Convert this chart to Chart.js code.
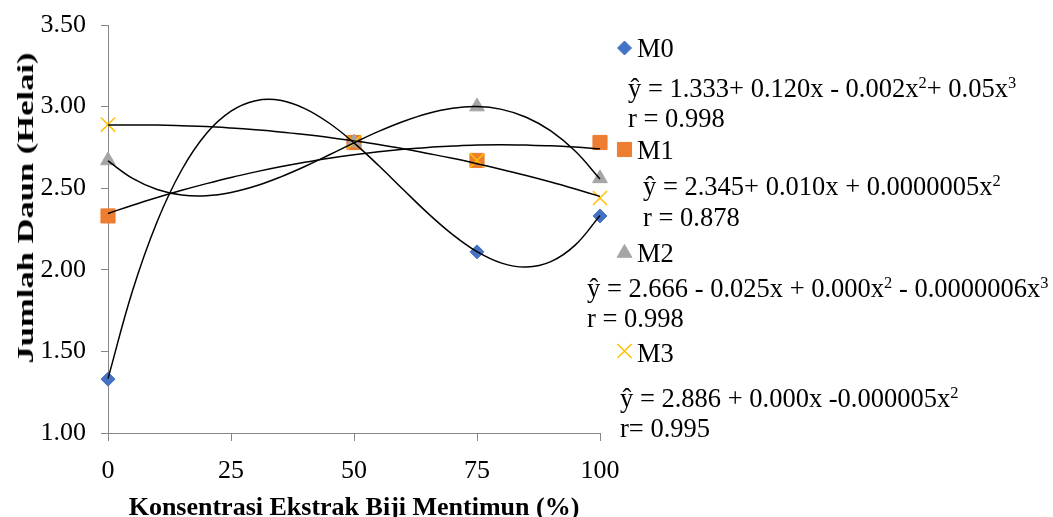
<!DOCTYPE html>
<html>
<head>
<meta charset="utf-8">
<script src="https://cdn.jsdelivr.net/npm/chart.js@4/dist/chart.umd.min.js"></script>
<style>
  html, body { margin: 0; padding: 0; background: #ffffff; }
  #wrap { position: relative; width: 1053px; height: 517px; overflow: hidden; }
  canvas { position: absolute; left: 0; top: 0; }
  .t { position: absolute; font-family: "Liberation Serif", "Times New Roman", serif; font-size: 26.5px; line-height: 30px; color: #000; white-space: nowrap; }
  .t sup { font-size: 0.62em; vertical-align: 0; position: relative; top: -0.55em; line-height: 0; }
  .axt { position: absolute; font-family: "Liberation Serif", "Times New Roman", serif; font-weight: bold; color: #000; white-space: nowrap; line-height: 1; }
</style>
</head>
<body>
<div id="wrap">
  <canvas id="c" width="1053" height="517"></canvas>
  <div class="axt" id="ytitle" style="left:25px; top:208px; font-size:24px; transform: translate(-50%,-50%) rotate(-90deg) scaleX(1.44);">Jumlah Daun (Helai)</div>
  <div class="axt" id="xtitle" style="left:354px; top:507px; font-size:26px; transform: translate(-50%,-50%);">Konsentrasi Ekstrak Biji Mentimun (%)</div>

  <div class="t" style="left:637px; top:33px;">M0</div>
  <div class="t" style="left:628px; top:73px;">ŷ = 1.333+ 0.120x - 0.002x<sup>2</sup>+ 0.05x<sup>3</sup></div>
  <div class="t" style="left:628px; top:103px;">r = 0.998</div>

  <div class="t" style="left:637px; top:135px;">M1</div>
  <div class="t" style="left:643px; top:171px;">ŷ = 2.345+ 0.010x + 0.0000005x<sup>2</sup></div>
  <div class="t" style="left:643px; top:202px;">r = 0.878</div>

  <div class="t" style="left:637px; top:238px;">M2</div>
  <div class="t" style="left:587px; top:273px;">ŷ = 2.666 - 0.025x + 0.000x<sup>2</sup> - 0.0000006x<sup>3</sup></div>
  <div class="t" style="left:587px; top:303px;">r = 0.998</div>

  <div class="t" style="left:637px; top:338px;">M3</div>
  <div class="t" style="left:620px; top:383px;">ŷ = 2.886 + 0.000x -0.000005x<sup>2</sup></div>
  <div class="t" style="left:620px; top:413px;">r= 0.995</div>
</div>
<script>
// ---- data ----
const concentrations = [0, 50, 75, 100];
const seriesNames = ["M0", "M1", "M2", "M3"];
const m0 = [1.33, 2.78, 2.11, 2.33];
const m1 = [2.33, 2.78, 2.67, 2.78];
const m2 = [2.67, 2.78, 3.00, 2.56];
const m3 = [2.89, 2.78, 2.67, 2.44];

// trend curves as drawn in the picture, sampled every 5 %
const trendX = [0, 5, 10, 15, 20, 25, 30, 35, 40, 45, 50, 55, 60, 65, 70, 75, 80, 85, 90, 95, 100];
const trendM0 = [1.333, 1.873, 2.296, 2.613, 2.835, 2.972, 3.036, 3.039, 2.988, 2.898, 2.778, 2.639, 2.492, 2.347, 2.217, 2.111, 2.041, 2.017, 2.050, 2.153, 2.333];
const trendM1 = [2.345, 2.396, 2.443, 2.487, 2.528, 2.566, 2.600, 2.631, 2.659, 2.684, 2.705, 2.723, 2.738, 2.750, 2.758, 2.764, 2.766, 2.764, 2.760, 2.752, 2.741];
const trendM2 = [2.667, 2.560, 2.492, 2.458, 2.453, 2.473, 2.513, 2.568, 2.633, 2.705, 2.778, 2.848, 2.909, 2.958, 2.990, 3.000, 2.983, 2.935, 2.851, 2.726, 2.556];
const trendM3 = [2.887, 2.888, 2.887, 2.883, 2.878, 2.869, 2.858, 2.845, 2.829, 2.811, 2.790, 2.768, 2.742, 2.713, 2.683, 2.650, 2.615, 2.578, 2.538, 2.495, 2.450];

const xTicks = [0, 25, 50, 75, 100];
const yTicks = [1.00, 1.50, 2.00, 2.50, 3.00, 3.50];

// ---- styling ----
const styles = [
  { color: "#4472C4", pointStyle: "rectRot", radius: 7, bw: 1 },
  { color: "#ED7D31", pointStyle: "rect", radius: 10, bw: 1 },
  { color: "#A5A5A5", pointStyle: "triangle", radius: 8.5, bw: 1 },
  { color: "#FFC000", pointStyle: "crossRot", radius: 10, bw: 1.5 }
];
const pointSeries = [m0, m1, m2, m3];
const trendSeries = [trendM0, trendM1, trendM2, trendM3];

const toXY = (xs, ys) => xs.map((x, i) => ({ x: x, y: ys[i] }));

const datasets = [];
pointSeries.forEach((ys, i) => {
  const s = styles[i];
  datasets.push({
    label: seriesNames[i],
    data: toXY(concentrations, ys),
    showLine: false,
    clip: false,
    pointStyle: s.pointStyle,
    pointRadius: s.radius,
    pointHoverRadius: s.radius,
    backgroundColor: s.color,
    borderColor: s.color,
    pointBorderWidth: s.bw,
    order: 10 - i
  });
});
trendSeries.forEach((ys, i) => {
  datasets.push({
    label: "Trend " + seriesNames[i],
    data: toXY(trendX, ys),
    showLine: true,
    clip: false,
    borderColor: "#000000",
    borderWidth: 1.5,
    pointRadius: 0,
    tension: 0.4,
    fill: false,
    order: 1
  });
});

const GRAY = "#868686";
const FONT = "'Liberation Serif', 'Times New Roman', serif";

const legendMarkers = {
  id: "legendMarkers",
  afterDraw(chart) {
    const ctx = chart.ctx;
    const pos = [[624.5, 48], [624.5, 149.5], [624.5, 253], [624.5, 351]];
    pos.forEach((p, i) => {
      const s = styles[i];
      ctx.save();
      ctx.fillStyle = s.color;
      ctx.strokeStyle = s.color;
      ctx.lineWidth = s.bw;
      Chart.helpers.drawPoint(ctx, { pointStyle: s.pointStyle, radius: s.radius, rotation: 0, borderWidth: s.bw }, p[0], p[1]);
      ctx.restore();
    });
  }
};

new Chart(document.getElementById("c"), {
  type: "scatter",
  data: { datasets: datasets },
  options: {
    responsive: false,
    animation: false,
    layout: { padding: { left: 0, top: 25, right: 453, bottom: 0 } },
    plugins: { legend: { display: false }, tooltip: { enabled: false } },
    scales: {
      x: {
        type: "linear",
        min: 0, max: 100,
        afterBuildTicks: (axis) => { axis.ticks = xTicks.map(v => ({ value: v })); },
        afterFit: (axis) => { axis.height = 84; axis.paddingLeft = 0; axis.paddingRight = 0; },
        ticks: { color: "#000", font: { family: FONT, size: 26 }, padding: 15, callback: (v) => String(v) },
        grid: { display: true, drawOnChartArea: false, drawTicks: true, tickLength: 8, color: GRAY, lineWidth: 1 },
        border: { display: true, color: GRAY, width: 1 }
      },
      y: {
        type: "linear",
        min: 1, max: 3.5,
        afterBuildTicks: (axis) => { axis.ticks = yTicks.map(v => ({ value: v })); },
        afterFit: (axis) => { axis.width = 108; axis.paddingTop = 0; axis.paddingBottom = 0; },
        ticks: { color: "#000", font: { family: FONT, size: 26 }, padding: 15, callback: (v) => Number(v).toFixed(2) },
        grid: { display: true, drawOnChartArea: false, drawTicks: true, tickLength: 7, color: GRAY, lineWidth: 1 },
        border: { display: true, color: GRAY, width: 1 }
      }
    }
  },
  plugins: [legendMarkers]
});
</script>
</body>
</html>
